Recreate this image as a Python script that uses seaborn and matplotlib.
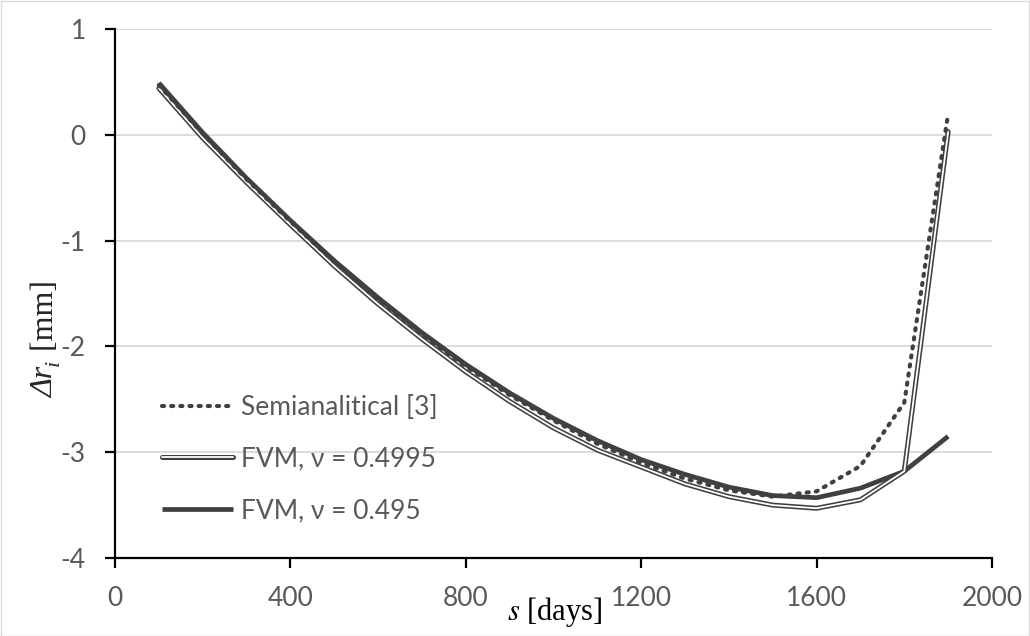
import matplotlib
matplotlib.use("Agg")
import matplotlib.pyplot as plt
import matplotlib.patheffects as pe
import seaborn as sns
import pandas as pd

days = [100, 200, 300, 400, 500, 600, 700, 800, 900, 1000,
        1100, 1200, 1300, 1400, 1500, 1600, 1700, 1800, 1900]
semianalytical = [0.47, 0.01, -0.42, -0.82, -1.20, -1.56, -1.89, -2.19, -2.46, -2.70,
                  -2.92, -3.10, -3.25, -3.36, -3.42, -3.37, -3.13, -2.53, 0.20]
fvm_4995 = [0.44, -0.03, -0.45, -0.85, -1.24, -1.60, -1.93, -2.24, -2.52, -2.77,
            -2.98, -3.14, -3.30, -3.42, -3.50, -3.53, -3.45, -3.18, 0.03]
fvm_495 = [0.49, 0.02, -0.41, -0.81, -1.19, -1.54, -1.87, -2.17, -2.44, -2.68,
           -2.89, -3.07, -3.21, -3.33, -3.41, -3.43, -3.34, -3.18, -2.85]
labels = ["Semianalitical [3]", "FVM, ν = 0.4995", "FVM, ν = 0.495"]
xticks = [0, 400, 800, 1200, 1600, 2000]
yticks = [1, 0, -1, -2, -3, -4]

sns.set_theme(style="white")
plt.rcParams['font.family'] = ['Lato', 'DejaVu Sans']
plt.rcParams['axes.unicode_minus'] = False
plt.rcParams['mathtext.fontset'] = 'stix'

df = pd.DataFrame({"s": days, "semi": semianalytical, "f1": fvm_4995, "f2": fvm_495})

W, H = 1030, 636
fig = plt.figure(figsize=(W / 100, H / 100), dpi=100)
L, R, T, B = 115, 992, 29, 558
ax = fig.add_axes([L / W, 1 - B / H, (R - L) / W, (B - T) / H])

dark = '#404040'
sns.lineplot(data=df, x="s", y="f2", ax=ax, color=dark, lw=3.4, label=labels[2],
             solid_capstyle='butt', zorder=3)
sns.lineplot(data=df, x="s", y="f1", ax=ax, color='white', lw=1.3, label=labels[1],
             zorder=4, path_effects=[pe.Stroke(linewidth=3.6, foreground=dark), pe.Normal()])
sns.lineplot(data=df, x="s", y="semi", ax=ax, color=dark, lw=3.0, label=labels[0],
             linestyle=(0, (0.5, 1.7)), dash_capstyle='round', zorder=5)

ax.set_xlim(0, 2000)
ax.set_ylim(-4, 1)
ax.set_xticks(xticks)
ax.set_yticks(yticks)
ax.set_yticklabels([str(t) for t in yticks])
ax.grid(axis='y', color='#d9d9d9', lw=1.3)
ax.grid(axis='x', visible=False)
for s in ['top', 'right']:
    ax.spines[s].set_visible(False)
for s in ['left', 'bottom']:
    ax.spines[s].set_color('black')
    ax.spines[s].set_linewidth(1.6)
ax.tick_params(axis='both', direction='out', length=7, width=1.6, color='black',
               labelsize=19, labelcolor='#595959', left=True, bottom=True)
ax.tick_params(axis='y', pad=14)
ax.tick_params(axis='x', pad=13)
ax.set_xlabel("")
ax.set_ylabel("")

h, l = ax.get_legend_handles_labels()
order = [2, 1, 0]
leg = ax.legend([h[i] for i in order], [l[i] for i in order], loc='center left',
                bbox_to_anchor=(162 / W, 1 - 459 / H), bbox_transform=fig.transFigure,
                frameon=False, fontsize=19,
                labelcolor='#595959', handlelength=2.7, handletextpad=0.3,
                labelspacing=1.0, borderpad=0, borderaxespad=0)

fig.text(555 / W, 1 - 612 / H, r"$s$ [days]", family='Liberation Serif', fontsize=22,
         ha='center', va='center', color='black')

# y label built from pieces: italic "Δr", italic subscript "i", regular " [mm]"
base_x = 53
y0 = H - 398
fig.canvas.draw()
rend = fig.canvas.get_renderer()
t1 = fig.text(base_x / W, y0 / H, "Δr", family='Liberation Serif', style='italic',
              fontsize=23, rotation=90, rotation_mode='anchor', ha='left', va='baseline')
e1 = t1.get_window_extent(rend)
t2 = fig.text((base_x + 6) / W, (e1.y1 + 1) / H, "i", family='Liberation Serif',
              style='italic', fontsize=16, rotation=90, rotation_mode='anchor',
              ha='left', va='baseline')
e2 = t2.get_window_extent(rend)
fig.text(base_x / W, (e2.y1 + 1) / H, " [mm]", family='Liberation Serif',
         fontsize=23, rotation=90, rotation_mode='anchor', ha='left', va='baseline')

fig.patches.append(plt.Rectangle((0.5 / W, 0.5 / H), 1 - 1.5 / W, 1 - 1.5 / H,
                                 transform=fig.transFigure, fill=False,
                                 edgecolor='#d9d9d9', lw=1))
fig.savefig("out.png", dpi=100)
